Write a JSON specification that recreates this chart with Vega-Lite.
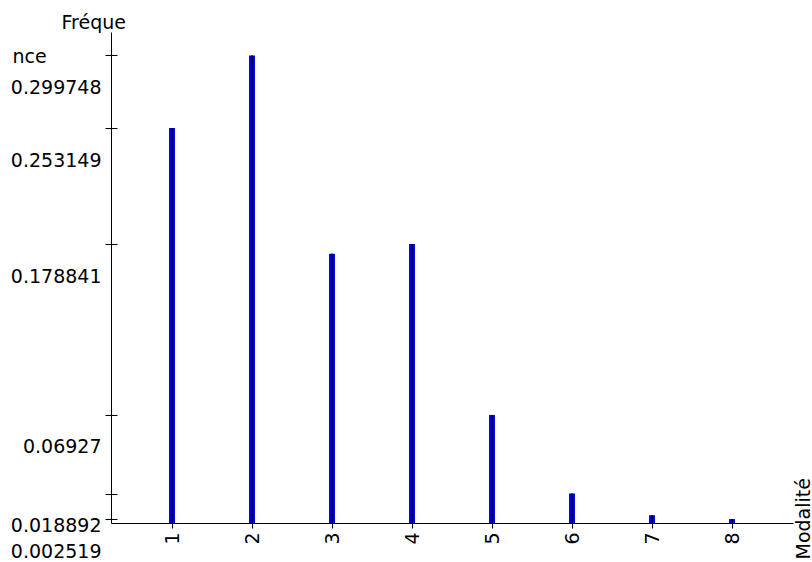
{
  "$schema": "https://vega.github.io/schema/vega-lite/v6.json",
  "width": 682,
  "height": 491,
  "autosize": {"type": "none"},
  "padding": {"left": 111, "top": 32, "right": 19, "bottom": 39},
  "background": "white",
  "config": {
    "view": {"stroke": null},
    "font": "DejaVu Sans",
    "axis": {
      "labelFont": "DejaVu Sans",
      "titleFont": "DejaVu Sans",
      "labelFontSize": 19,
      "titleFontSize": 19,
      "titleFontWeight": "normal",
      "labelColor": "#000000",
      "titleColor": "#000000",
      "domainColor": "#000000",
      "tickColor": "#000000",
      "grid": false,
      "labelFlush": false,
      "labelOverlap": false,
      "labelBound": false
    }
  },
  "data": {
    "values": [
      {"modalite": 1, "frequence": 0.253149},
      {"modalite": 2, "frequence": 0.299748},
      {"modalite": 3, "frequence": 0.172581},
      {"modalite": 4, "frequence": 0.178841},
      {"modalite": 5, "frequence": 0.06927},
      {"modalite": 6, "frequence": 0.018892},
      {"modalite": 7, "frequence": 0.005},
      {"modalite": 8, "frequence": 0.002519}
    ]
  },
  "encoding": {
    "x": {
      "field": "modalite",
      "type": "quantitative",
      "scale": {"domain": [0.3, 8.7], "nice": false, "zero": false},
      "axis": {
        "values": [1, 2, 3, 4, 5, 6, 7, 8],
        "format": "d",
        "labelAngle": 270,
        "labelAlign": "right",
        "labelBaseline": "middle",
        "tickSize": 5,
        "labelPadding": 4,
        "title": "Modalité",
        "titleAngle": 270,
        "titleAlign": "left",
        "titleBaseline": "alphabetic",
        "titleX": 698,
        "titleY": 36
      }
    }
  },
  "layer": [
    {
      "mark": {"type": "bar", "color": "#0000ff", "size": 6},
      "encoding": {
        "y": {
          "field": "frequence",
          "type": "quantitative",
          "scale": {"domain": [0, 0.31474], "nice": false, "zero": true},
          "axis": {
            "orient": "left",
            "values": [0.002519, 0.018892, 0.06927, 0.178841, 0.253149, 0.299748],
            "format": ".6~f",
            "tickSize": 6,
            "labelPadding": 4,
            "labelAlign": "right",
            "labelBaseline": "middle",
            "labelOffset": 32,
            "title": "Fréque",
            "titleAngle": 0,
            "titleAlign": "left",
            "titleBaseline": "alphabetic",
            "titleX": -50,
            "titleY": -4
          }
        }
      }
    },
    {
      "mark": {"type": "rule", "color": "#000050", "strokeWidth": 2},
      "encoding": {
        "y": {
          "field": "frequence",
          "type": "quantitative",
          "axis": {
            "orient": "left",
            "values": [0.002519, 0.018892, 0.06927, 0.178841, 0.253149, 0.299748],
            "tickSize": -6,
            "labels": false,
            "domain": false,
            "title": "nce",
            "titleAngle": 0,
            "titleAlign": "left",
            "titleBaseline": "alphabetic",
            "titleX": -99,
            "titleY": 30
          }
        },
        "y2": {"datum": 0}
      }
    }
  ],
  "resolve": {"scale": {"y": "shared"}, "axis": {"y": "independent"}}
}
